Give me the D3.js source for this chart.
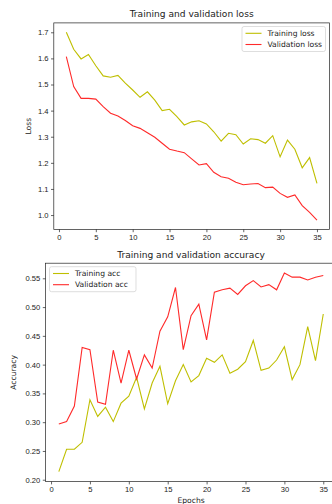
<!DOCTYPE html>
<html>
<head>
<meta charset="utf-8">
<script src="https://cdn.jsdelivr.net/npm/d3@7"></script>
<style>
  body { margin: 0; background: #fff; }
  svg { display: block; font-family: "DejaVu Sans", sans-serif; }
  .axis path, .axis line { stroke: #222; stroke-width: 0.7; }
  .axis text { fill: #222; font-size: 7.6px; }
</style>
</head>
<body>
<script>
var epochs = d3.range(1, 36)

var trainLoss = [1.700, 1.635, 1.598, 1.615, 1.572, 1.533, 1.528, 1.535, 1.505, 1.479,
                 1.451, 1.472, 1.440, 1.400, 1.405, 1.377, 1.345, 1.357, 1.361, 1.349,
                 1.319, 1.283, 1.313, 1.308, 1.272, 1.292, 1.289, 1.275, 1.304, 1.223,
                 1.287, 1.252, 1.181, 1.220, 1.121]
var valLoss = [1.607, 1.492, 1.447, 1.447, 1.444, 1.415, 1.390, 1.379, 1.362, 1.342,
               1.332, 1.315, 1.298, 1.275, 1.252, 1.245, 1.239, 1.215, 1.192, 1.197,
               1.164, 1.147, 1.141, 1.126, 1.116, 1.119, 1.121, 1.105, 1.107, 1.083,
               1.068, 1.077, 1.036, 1.010, 0.981]

var trainAcc = [0.214, 0.253, 0.253, 0.265, 0.339, 0.310, 0.326, 0.301, 0.333, 0.345,
                0.378, 0.323, 0.368, 0.397, 0.332, 0.372, 0.400, 0.370, 0.381, 0.411,
                0.404, 0.417, 0.385, 0.392, 0.405, 0.442, 0.390, 0.394, 0.408, 0.431,
                0.374, 0.400, 0.466, 0.407, 0.488]
var valAcc = [0.297, 0.301, 0.328, 0.430, 0.426, 0.335, 0.331, 0.425, 0.368, 0.425,
              0.375, 0.417, 0.394, 0.458, 0.483, 0.534, 0.426, 0.485, 0.505, 0.443,
              0.526, 0.530, 0.533, 0.522, 0.537, 0.546, 0.535, 0.539, 0.530, 0.559,
              0.552, 0.552, 0.547, 0.552, 0.555]

var lossTicks = [1.0, 1.1, 1.2, 1.3, 1.4, 1.5, 1.6, 1.7]
var accTicks = [0.20, 0.25, 0.30, 0.35, 0.40, 0.45, 0.50, 0.55]
var epochTicks = [0, 5, 10, 15, 20, 25, 30, 35]

var width = 332
var height = 504
var trainColor = "#bfbf00"
var valColor = "#ff2a2a"

var svg = d3.select("body")
            .append("svg")
            .attr("width", width)
            .attr("height", height)

// matplotlib style 5% margins
var padDomain = function(lo, hi){
  var m = (hi - lo) * 0.05
  return [lo - m, hi + m]
}

var drawPanel = function(opt){
  var box = opt.box
  var allY = opt.series[0].values.concat(opt.series[1].values)

  var xScale = d3.scaleLinear()
                 .domain(padDomain(d3.min(epochs), d3.max(epochs)))
                 .range([box.left, box.right])

  var yScale = d3.scaleLinear()
                 .domain(padDomain(d3.min(allY), d3.max(allY)))
                 .range([box.bottom, box.top])

  var xAxis = d3.axisBottom(xScale)
                .tickValues(epochTicks)
                .tickSize(2.8)
                .tickPadding(2.5)
                .tickFormat(d3.format("d"))

  var yAxis = d3.axisLeft(yScale)
                .tickValues(opt.ticks)
                .tickSize(2.8)
                .tickPadding(2.5)
                .tickFormat(d3.format(opt.fmt))

  svg.append("g")
     .attr("class", "axis")
     .attr("transform", "translate(0," + box.bottom + ")")
     .call(xAxis)
     .select(".domain").remove()

  svg.append("g")
     .attr("class", "axis")
     .attr("transform", "translate(" + box.left + ",0)")
     .call(yAxis)
     .select(".domain").remove()

  // frame
  svg.append("rect")
     .attr("x", box.left)
     .attr("y", box.top)
     .attr("width", box.right - box.left)
     .attr("height", box.bottom - box.top)
     .attr("fill", "none")
     .attr("stroke", "#222")
     .attr("stroke-width", 0.7)

  var line = d3.line()
               .x(function(d, i){ return xScale(epochs[i]) })
               .y(function(d){ return yScale(d) })

  opt.series.forEach(function(s){
    svg.append("path")
       .datum(s.values)
       .attr("d", line)
       .attr("fill", "none")
       .attr("stroke", s.color)
       .attr("stroke-width", 1.1)
  })

  // title
  svg.append("text")
     .attr("x", (box.left + box.right) / 2)
     .attr("y", box.top - 5.5)
     .attr("text-anchor", "middle")
     .attr("font-size", 9.1)
     .attr("fill", "#222")
     .text(opt.title)

  // axis labels
  svg.append("text")
     .attr("transform", "translate(" + opt.yLabelX + "," + (box.top + box.bottom) / 2 + ") rotate(-90)")
     .attr("text-anchor", "middle")
     .attr("font-size", 7.6)
     .attr("fill", "#222")
     .text(opt.yLabel)

  if (opt.xLabel) {
    svg.append("text")
       .attr("x", (box.left + box.right) / 2)
       .attr("y", box.bottom + 21)
       .attr("text-anchor", "middle")
       .attr("font-size", 7.6)
       .attr("fill", "#222")
       .text(opt.xLabel)
  }

  // legend
  var lg = opt.legend
  var leg = svg.append("g").attr("transform", "translate(" + lg.x + "," + lg.y + ")")
  leg.append("rect")
     .attr("width", lg.w)
     .attr("height", 25)
     .attr("rx", 2)
     .attr("fill", "white")
     .attr("fill-opacity", 0.8)
     .attr("stroke", "#d0d0d0")
     .attr("stroke-width", 0.7)
  opt.series.forEach(function(s, i){
    var yy = 6.8 + i * 11.2
    leg.append("line")
       .attr("x1", 3.5).attr("x2", 19.5)
       .attr("y1", yy).attr("y2", yy)
       .attr("stroke", s.color)
       .attr("stroke-width", 1.1)
    leg.append("text")
       .attr("x", 25.5)
       .attr("y", yy + 2.7)
       .attr("font-size", 7.6)
       .attr("fill", "#222")
       .text(s.name)
  })
}

drawPanel({
  box: {left: 53.8, right: 329.5, top: 22.9, bottom: 229.4},
  title: "Training and validation loss",
  yLabel: "Loss",
  yLabelX: 31,
  ticks: lossTicks,
  fmt: ".1f",
  series: [
    {name: "Training loss", values: trainLoss, color: trainColor},
    {name: "Validation loss", values: valLoss, color: valColor}
  ],
  legend: {x: 242, y: 26.5, w: 83.5}
})

drawPanel({
  box: {left: 45.6, right: 336.5, top: 263.2, bottom: 481.6},
  title: "Training and validation accuracy",
  yLabel: "Accuracy",
  yLabelX: 16,
  xLabel: "Epochs",
  ticks: accTicks,
  fmt: ".2f",
  series: [
    {name: "Training acc", values: trainAcc, color: trainColor},
    {name: "Validation acc", values: valAcc, color: valColor}
  ],
  legend: {x: 49.5, y: 266.7, w: 86.5}
})
</script>
</body>
</html>
